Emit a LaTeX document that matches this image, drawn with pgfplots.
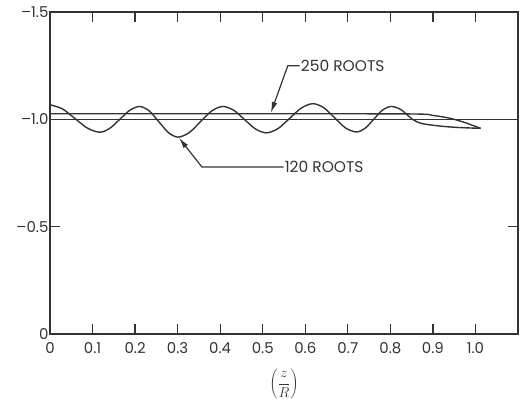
\documentclass[border=0pt]{standalone}
\usepackage{fontspec}
\setmainfont{Poppins}
\usepackage{pgfplots}
\pgfplotsset{compat=1.18}
\usetikzlibrary{arrows.meta}
\definecolor{ink}{HTML}{333333}
\begin{document}
\begin{tikzpicture}
\begin{axis}[
  at={(0,0)}, anchor=south west,
  scale only axis, width=468bp, height=322bp,
  xmin=0, xmax=1.1, ymin=-1.5, ymax=0, y dir=reverse,
  xtick={0,0.1,0.2,0.3,0.4,0.5,0.6,0.7,0.8,0.9,1.0},
  xticklabels={0,0.1,0.2,0.3,0.4,0.5,0.6,0.7,0.8,0.9,1.0},
  ytick={0,-0.5,-1.0,-1.5},
  yticklabels={0,–0.5,–1.0,–1.5},
  tick align=inside, xtick pos=both, ytick pos=both,
  xticklabel pos=lower, yticklabel pos=left,
  major tick length=10bp,
  axis line style={ink, line width=1.2bp},
  every tick/.style={ink, line width=1.2bp},
  xticklabel style={font=\fontsize{15}{17}\selectfont, text=ink, yshift=-5bp},
  yticklabel style={font=\fontsize{15}{17}\selectfont, text=ink, xshift=2bp},
  xlabel={$\left(\displaystyle\frac{z}{R}\right)$},
  xlabel style={at={(axis description cs:0.5,0)}, anchor=center, yshift=-50bp, text=ink,
    font=\fontsize{14}{16}\selectfont},
]
% reference line at -1.0
\addplot[ink, line width=1.2bp] coordinates {(0,-1.0) (1.1,-1.0)};
% 250 roots
\addplot[ink, line width=1.4bp, smooth] coordinates {
 (0,-1.026) (0.5,-1.026) (0.85,-1.025) (0.90,-1.018) (0.94,-1.005) (0.975,-0.985) (1.012,-0.958)};
% 120 roots
\addplot[ink, line width=1.4bp, smooth] coordinates {
 (0.000,-1.068) (0.029,-1.049) (0.0585,-1.004) (0.088,-0.959)
 (0.117,-0.940) (0.1405,-0.958) (0.164,-1.000) (0.1875,-1.042)
 (0.211,-1.060) (0.2335,-1.039) (0.256,-0.9885) (0.2785,-0.938)
 (0.301,-0.917) (0.327,-0.938) (0.3535,-0.9885) (0.380,-1.039)
 (0.406,-1.060) (0.432,-1.042) (0.4575,-0.9985) (0.483,-0.955)
 (0.509,-0.937) (0.536,-0.957) (0.5635,-1.005) (0.591,-1.053)
 (0.618,-1.073) (0.6435,-1.054) (0.669,-1.007) (0.6945,-0.960)
 (0.720,-0.941) (0.7405,-0.958) (0.761,-1.0005) (0.7815,-1.043)
 (0.802,-1.060) (0.825,-1.045) (0.852,-1.000) (0.875,-0.980)
 (0.92,-0.968) (0.96,-0.962) (1.012,-0.958)};
% annotations
\draw[ink, line width=1.2bp, -{Latex[length=11bp,width=5.5bp]}]
  (axis cs:0.587,-1.25) -- (axis cs:0.559,-1.25) -- (axis cs:0.519,-1.030);
\node[anchor=west, inner sep=1bp, text=ink, font=\fontsize{15.5}{18}\selectfont]
  at (axis cs:0.587,-1.25) {250 ROOTS};
\draw[ink, line width=1.2bp, -{Latex[length=11bp,width=5.5bp]}]
  (axis cs:0.549,-0.778) -- (axis cs:0.357,-0.778) -- (axis cs:0.303,-0.914);
\node[anchor=west, inner sep=1bp, text=ink, font=\fontsize{15.5}{18}\selectfont]
  at (axis cs:0.549,-0.778) {120 ROOTS};
\end{axis}
\path (current axis.south west) ++(-50bp,-64bp) rectangle ++(530bp,398bp);
\end{tikzpicture}
\end{document}
